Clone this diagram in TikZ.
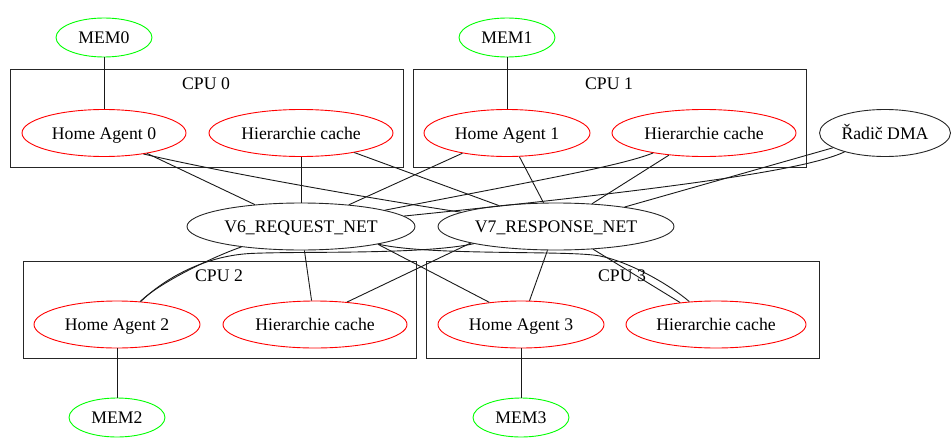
\documentclass[tikz,border=0pt]{standalone}
\usepackage{fontspec}
\setmainfont{Liberation Serif}
\usetikzlibrary{shapes.geometric}
\begin{document}
\begin{tikzpicture}[x=1pt,y=1pt,
  ell/.style={ellipse, draw, line width=0.9pt, inner sep=0pt, minimum height=47pt, text height=13pt, text depth=0.5pt, font=\fontsize{17.7}{20}\selectfont},
  redell/.style={ell, draw=red},
  greenell/.style={ell, draw=green, minimum width=96pt, minimum height=39pt},
  blkell/.style={ell, draw=black!85},
  cpubox/.style={draw=black!85, line width=0.9pt},
  lbl/.style={inner sep=0pt, text height=13pt, text depth=0.5pt, font=\fontsize{17.7}{20}\selectfont},
  edge/.style={draw=black!90, line width=0.9pt}]
\useasboundingbox (0,0) rectangle (952,-439);

% clusters
\draw[cpubox] (10,-69) rectangle (403,-167);
\draw[cpubox] (413,-69) rectangle (806,-167);
\draw[cpubox] (23,-261) rectangle (416,-358);
\draw[cpubox] (426,-261) rectangle (819,-358);
\node[lbl] (l0) at (206,-83) {CPU 0};
\node[lbl] (l1) at (609,-83) {CPU 1};
\node[lbl] (l2) at (219,-275) {CPU 2};
\node[lbl] (l3) at (622,-275) {CPU 3};

% nodes
\node[greenell] (mem0) at (104,-37.5) {MEM0};
\node[greenell] (mem1) at (507,-37.5) {MEM1};
\node[redell, minimum width=164pt] (ha0) at (104,-133) {Home Agent 0};
\node[redell, minimum width=184pt] (hc0) at (301,-133) {Hierarchie cache};
\node[redell, minimum width=166pt] (ha1) at (507,-133) {Home Agent 1};
\node[redell, minimum width=184pt] (hc1) at (704,-133) {Hierarchie cache};
\node[blkell, minimum width=131pt] (dma) at (885,-133) {Řadič DMA};
\node[blkell, minimum width=228pt] (v6) at (301,-226.5) {V6\_REQUEST\_NET};
\node[blkell, minimum width=236pt] (v7) at (556,-226.5) {V7\_RESPONSE\_NET};
\node[redell, minimum width=166pt] (ha2) at (117,-324.5) {Home Agent 2};
\node[redell, minimum width=184pt] (hc2) at (315,-324.5) {Hierarchie cache};
\node[redell, minimum width=166pt] (ha3) at (521,-324.5) {Home Agent 3};
\node[redell, minimum width=180pt] (hc3) at (716,-324.5) {Hierarchie cache};
\node[greenell] (mem2) at (117,-417.5) {MEM2};
\node[greenell] (mem3) at (521,-417.5) {MEM3};

% memory links
\draw[edge] (mem0) -- (ha0);
\draw[edge] (mem1) -- (ha1);
\draw[edge] (ha2) -- (mem2);
\draw[edge] (ha3) -- (mem3);

% upper links
\draw[edge] (ha0) -- (v6);
\draw[edge] (ha0.-28) .. controls (230,-174) and (380,-200) .. (v7);
\draw[edge] (hc0) -- (v6);
\draw[edge] (hc0) -- (v7);
\draw[edge] (ha1) -- (v6);
\draw[edge] (ha1) -- (v7);
\draw[edge] (hc1) .. controls (620,-166) and (540,-180) .. (v6);
\draw[edge] (hc1) -- (v7);
\draw[edge] (dma) .. controls (810,-168) and (700,-186) .. (v6);
\draw[edge] (dma) -- (v7);

% lower links
\coordinate (k1) at (250,-253.5);
\coordinate (k2) at (600,-256);
\draw[edge] (v6) .. controls (215,-256) and (160,-282) .. (ha2);
\draw[edge] (v7) .. controls (420,-255) and (300,-251) .. (k1) .. controls (205,-256) and (165,-278) .. (ha2);
\draw[edge] (v6) -- (hc2);
\draw[edge] (v7.191) -- (hc2.35);
\draw[edge] (v6.-13) -- (ha3.145);
\draw[edge] (v7) -- (ha3);
\draw[edge] (v6) .. controls (430,-256) and (570,-250) .. (k2) .. controls (630,-262) and (670,-285) .. (hc3);
\draw[edge] (v7) -- (hc3);
\end{tikzpicture}
\end{document}
